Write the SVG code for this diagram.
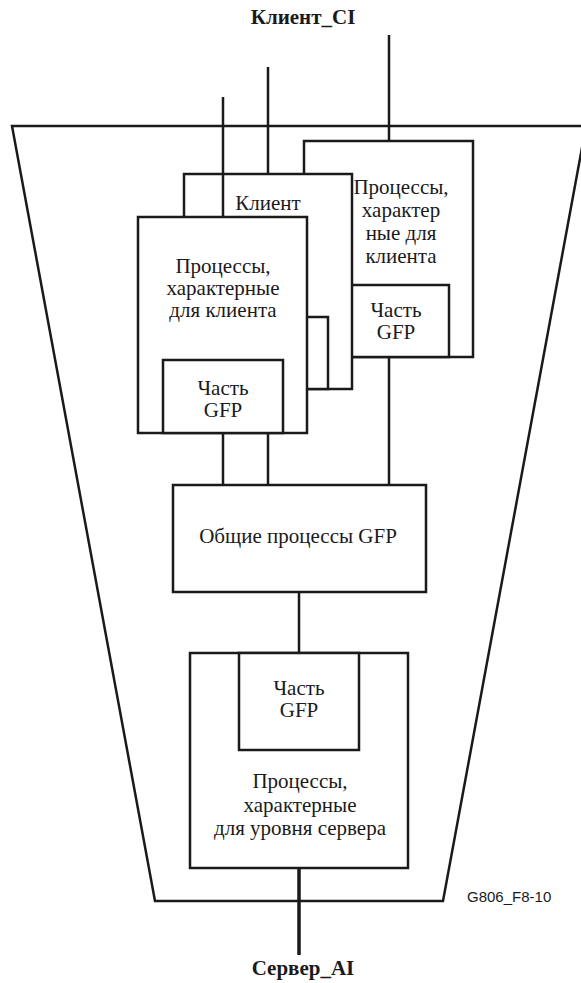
<svg xmlns="http://www.w3.org/2000/svg" width="581" height="983" viewBox="0 0 581 983">
  <style>
    .frame { fill: none; stroke: #1a1a1a; stroke-width: 2.5; stroke-linejoin: miter; }
    .box { fill: #ffffff; stroke: #1a1a1a; stroke-width: 2.5; }
    .wire { stroke: #1a1a1a; stroke-width: 2.5; fill: none; }
    .wire-thick { stroke: #1a1a1a; stroke-width: 3.5; fill: none; }
    .lbl { font-family: "Liberation Serif", "Times New Roman", serif; font-size: 21px; fill: #1a1a1a; text-anchor: middle; }
    .title { font-family: "Liberation Serif", "Times New Roman", serif; font-size: 21px; font-weight: bold; fill: #1a1a1a; text-anchor: middle; }
    .code { font-family: "Liberation Sans", Arial, sans-serif; font-size: 15px; fill: #1a1a1a; }
  </style>

  <!-- adaptation function outline -->
  <g id="frame">
    <polygon class="frame" points="12,126 586,126 443,901 155,901"/>
  </g>

  <!-- client-specific block, rear copy -->
  <g id="client-rear">
    <rect class="box" x="304" y="141" width="169" height="216"/>
    <rect class="box" x="329" y="285" width="120" height="72"/>
    <text class="lbl" x="401" y="194">Процессы,</text>
    <text class="lbl" x="401" y="217">характер</text>
    <text class="lbl" x="401" y="240">ные для</text>
    <text class="lbl" x="401" y="263">клиента</text>
    <text class="lbl" x="396" y="317">Часть</text>
    <text class="lbl" x="396" y="339">GFP</text>
  </g>

  <!-- client-specific block, middle copy -->
  <g id="client-middle">
    <rect class="box" x="184" y="174" width="168" height="215"/>
    <rect class="box" x="209" y="317" width="119" height="72"/>
    <text class="lbl" x="268" y="210">Клиент</text>
  </g>

  <!-- client-specific block, front copy -->
  <g id="client-front">
    <rect class="box" x="138" y="217" width="169" height="216"/>
    <rect class="box" x="163" y="360" width="120" height="73"/>
    <text class="lbl" x="223" y="273">Процессы,</text>
    <text class="lbl" x="223" y="295">характерные</text>
    <text class="lbl" x="223" y="317">для клиента</text>
    <text class="lbl" x="223" y="395">Часть</text>
    <text class="lbl" x="223" y="417">GFP</text>
  </g>

  <!-- common GFP processes -->
  <g id="gfp-common">
    <rect class="box" x="173" y="485" width="253" height="107"/>
    <text class="lbl" x="298" y="543">Общие процессы GFP</text>
  </g>

  <!-- server layer specific processes -->
  <g id="server">
    <rect class="box" x="190" y="653" width="218" height="215"/>
    <rect class="box" x="239" y="653" width="120" height="97"/>
    <text class="lbl" x="299" y="695">Часть</text>
    <text class="lbl" x="299" y="717">GFP</text>
    <text class="lbl" x="300" y="788">Процессы,</text>
    <text class="lbl" x="300" y="812">характерные</text>
    <text class="lbl" x="300" y="835">для уровня сервера</text>
  </g>

  <!-- connection points and links -->
  <g id="connectors">
    <line class="wire" x1="223" y1="97" x2="223" y2="217"/>
    <line class="wire" x1="268" y1="67" x2="268" y2="174"/>
    <line class="wire" x1="389" y1="35" x2="389" y2="141"/>
    <line class="wire" x1="223" y1="433" x2="223" y2="485"/>
    <line class="wire" x1="268" y1="433" x2="268" y2="485"/>
    <line class="wire" x1="389" y1="357" x2="389" y2="485"/>
    <line class="wire" x1="299" y1="592" x2="299" y2="653"/>
    <line class="wire-thick" x1="299" y1="868" x2="299" y2="955"/>
  </g>

  <g id="labels">
    <text class="title" x="303" y="24">Клиент_CI</text>
    <text class="title" x="303" y="975">Сервер_AI</text>
    <text class="code" x="467" y="902">G806_F8-10</text>
  </g>
</svg>
